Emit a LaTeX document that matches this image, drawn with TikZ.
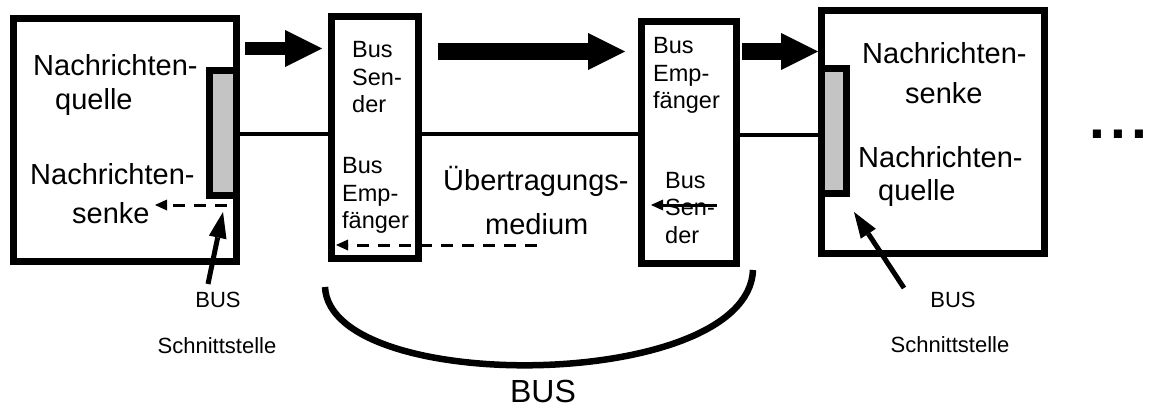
\documentclass[tikz,border=0pt]{standalone}
\usepackage{fontspec}
\setmainfont{Liberation Sans}
\usetikzlibrary{arrows.meta}
\definecolor{barfill}{RGB}{196,196,196}
\begin{document}
\begin{tikzpicture}[x=1pt,y=-1pt,
  box/.style={draw, line width=7pt, inner sep=0pt},
  ifbar/.style={draw, fill=barfill, line width=7pt, inner sep=0pt},
  busline/.style={line width=3.5pt},
  bigarrow/.style={-{Triangle[length=37pt,width=37pt,line width=0pt]}},
  dasharrow/.style={line width=3pt, dash pattern=on 12pt off 9pt,
    -{Triangle[length=12pt,width=11pt,line width=0pt]}},
  solidarrow/.style={line width=3pt, -{Triangle[length=12pt,width=11pt,line width=0pt]}},
  ifarrow/.style={line width=5pt, -{Triangle[length=26pt,width=18pt,line width=0pt]}},
  bigtxt/.style={inner sep=0pt, anchor=base west, font=\fontsize{29}{34}\selectfont},
  smtxt/.style={inner sep=0pt, anchor=base west, font=\fontsize{23.5}{28}\selectfont},
  lbl/.style={inner sep=0pt, anchor=base, font=\fontsize{22}{26}\selectfont},
]
\useasboundingbox (0,0) rectangle (1151,407);

% stations and bus couplers
\node[box, minimum width=223pt, minimum height=243pt] (L) at (125,140) {};
\node[box, minimum width=87pt,  minimum height=242pt] (S) at (375,137.5) {};
\node[box, minimum width=95pt,  minimum height=242pt] (E) at (689,142.5) {};
\node[box, minimum width=223pt, minimum height=243pt] (R) at (933,132) {};

% bus interfaces
\node[ifbar, minimum width=27pt, minimum height=125pt] (LB) at (223,133) {};
\node[ifbar, minimum width=25pt, minimum height=125pt] (RB) at (834,131) {};

% transmission medium
\coordinate (busy) at (0,134);
\coordinate (busr) at (0,135);
\draw[busline] (L.east |- busy) -- (S.west |- busy);
\draw[busline] (S.east |- busy) -- (E.west |- busy);
\draw[busline] (E.east |- busr) -- (R.west |- busr);

% forward data flow
\coordinate (a1) at (0,48.5);
\coordinate (a2) at (0,51.5);
\draw[bigarrow, line width=13pt, shorten <=5pt, shorten >=6pt] (L.east |- a1) -- (S.west |- a1);
\draw[bigarrow, line width=17pt, shorten <=16pt, shorten >=13pt] (S.east |- a2) -- (E.west |- a2);
\draw[bigarrow, line width=17pt, shorten <=2pt] (E.east |- a2) -- (R.west |- a2);

% texts of the left station
\node[bigtxt] (lq1) at (33,75)  {Nachrichten-};
\node[bigtxt] (lq2) at (55,109) {quelle};
\node[bigtxt] (ls1) at (30,184) {Nachrichten-};
\node[bigtxt] (ls2) at (72,223) {senke};

% texts of the couplers
\node[smtxt] (s1) at (352,57)  {Bus};
\node[smtxt] (s2) at (352,85)  {Sen-};
\node[smtxt] (s3) at (352,112) {der};
\node[smtxt] (s4) at (342,173) {Bus};
\node[smtxt] (s5) at (342,201) {Emp-};
\node[smtxt] (s6) at (342,228) {fänger};

\node[smtxt] (e1) at (653,53)  {Bus};
\node[smtxt] (e2) at (653,81)  {Emp-};
\node[smtxt] (e3) at (653,108) {fänger};
\node[smtxt] (e4) at (665,188) {Bus};
\node[smtxt] (e5) at (665,215) {Sen-};
\node[smtxt] (e6) at (665,243) {der};

% medium label
\node[bigtxt] (m1) at (443,190) {Übertragungs-};
\node[bigtxt] (m2) at (485,234) {medium};

% texts of the right station
\node[bigtxt] (rs1) at (862,63)  {Nachrichten-};
\node[bigtxt] (rs2) at (905,103) {senke};
\node[bigtxt] (rq1) at (858,167) {Nachrichten-};
\node[bigtxt] (rq2) at (878,200) {quelle};

% backward data flow
\coordinate (d1s) at (227,205);
\coordinate (d1e) at (155,205);
\draw[dasharrow] (d1s) -- (d1e);
\coordinate (d2s) at (537,245);
\draw[dasharrow, shorten >=8pt] (d2s) -- (S.west |- d2s);
\coordinate (d3s) at (717,205);
\draw[solidarrow, shorten >=13pt] (d3s) -- (E.west |- d3s);

% interface labels
\node[lbl] (lbus) at (218,307) {BUS};
\node[lbl] (lsch) at (217,353) {Schnittstelle};
\node[lbl] (rbus) at (953,307) {BUS};
\node[lbl] (rsch) at (950,352) {Schnittstelle};
\coordinate (li0) at (208,284);
\coordinate (li1) at (223,212);
\draw[ifarrow] (li0) -- (li1);
\coordinate (ri0) at (904,288);
\coordinate (ri1) at (854,212);
\draw[ifarrow] (ri0) -- (ri1);

% bus bracket
\draw[line width=6.5pt] (325,287) .. controls (330,396) and (748,392) .. (753,270);
\node[inner sep=0pt, anchor=base, font=\fontsize{32}{36}\selectfont] (bus) at (543,402) {BUS};

% continuation
\node[inner sep=0pt, anchor=base west, font=\fontsize{57}{60}\selectfont\bfseries] (dots) at (1089,138) {.\hspace{5.5pt}.\hspace{5.5pt}.};
\end{tikzpicture}
\end{document}
